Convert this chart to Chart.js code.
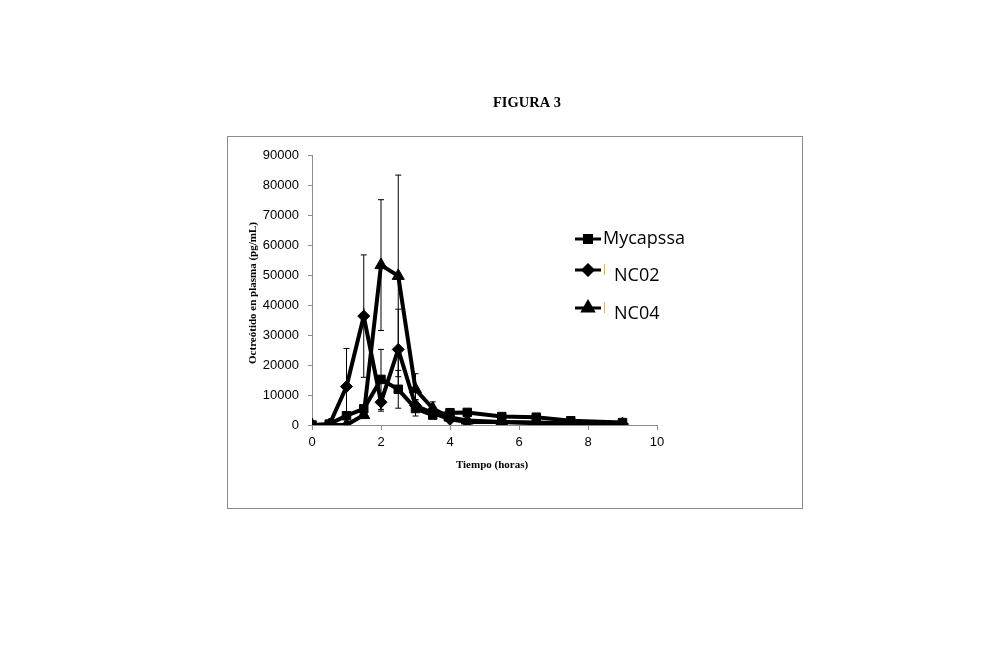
<!DOCTYPE html>
<html>
<head>
<meta charset="utf-8">
<script src="https://cdn.jsdelivr.net/npm/chart.js@4"></script>
<style>
  html, body { margin: 0; padding: 0; background: #fff; }
  #wrap { width: 1000px; height: 656px; }
</style>
</head>
<body>
<div id="wrap"><canvas id="chart" width="1000" height="656"></canvas></div>
<script>
// hours after dosing
const times = [0, 0.5, 1, 1.5, 2, 2.5, 3, 3.5, 4, 4.5, 5.5, 6.5, 7.5, 9];

// plasma octreotide (pg/mL)
const mycapssa = [0, 300, 3100, 5400, 15200, 11900, 5500, 3300, 4100, 4200, 2800, 2600, 1400, 800];
const nc02 = [0, 0, 12800, 36300, 7600, 25200, 6500, 4000, 1900, 1000, 1000, 600, 400, 300];
const nc04 = [0, 0, 0, 3300, 53300, 49700, 11900, 5500, 2500, 1500, 1000, 800, 500, 300];

// standard deviations (error bars)
const mycapssaErr = [0, 0, 0, 0, 10000, 6300, 2500, 1000, 0, 0, 0, 0, 0, 0];
const nc02Err = [0, 0, 12700, 20400, 3000, 13400, 2000, 1500, 0, 0, 0, 0, 0, 0];
const nc04Err = [0, 0, 0, 0, 21800, 33600, 5200, 2200, 0, 0, 0, 0, 0, 0];

const seriesNames = ['Mycapssa', 'NC02', 'NC04'];
const yTicks = [0, 10000, 20000, 30000, 40000, 50000, 60000, 70000, 80000, 90000];
const xTicks = [0, 2, 4, 6, 8, 10];
const figureTitle = 'FIGURA 3';
const xTitle = 'Tiempo (horas)';
const yTitle = 'Octreótido en plasma (pg/mL)';

function toPoints(vals) {
  return times.map((t, i) => ({ x: t, y: vals[i] }));
}

const errorBars = {
  id: 'errorBars',
  afterDatasetsDraw(chart) {
    const { ctx, scales: { x, y } } = chart;
    ctx.save();
    ctx.strokeStyle = '#000';
    ctx.lineWidth = 1;
    chart.data.datasets.forEach(ds => {
      ds.errors.forEach((e, i) => {
        if (!e) return;
        const px = x.getPixelForValue(times[i]);
        const top = y.getPixelForValue(ds.data[i].y + e);
        const bot = y.getPixelForValue(Math.max(0, ds.data[i].y - e));
        ctx.beginPath();
        ctx.moveTo(px, top); ctx.lineTo(px, bot);
        ctx.moveTo(px - 3, top); ctx.lineTo(px + 3, top);
        ctx.moveTo(px - 3, bot); ctx.lineTo(px + 3, bot);
        ctx.stroke();
      });
    });
    ctx.restore();
  }
};

const frameAndLegend = {
  id: 'frameAndLegend',
  beforeDraw(chart) {
    const ctx = chart.ctx;
    ctx.save();
    ctx.fillStyle = '#fff';
    ctx.fillRect(0, 0, chart.width, chart.height);
    ctx.strokeStyle = '#8c8c8c';
    ctx.lineWidth = 1;
    ctx.strokeRect(227.5, 136.5, 575, 372);
    ctx.fillStyle = '#000';
    ctx.textAlign = 'center';
    ctx.textBaseline = 'middle';
    ctx.font = 'bold 14.5px "Liberation Serif", "Times New Roman", serif';
    ctx.fillText(figureTitle, 527, 103);
    ctx.font = 'bold 11px "Liberation Serif", "Times New Roman", serif';
    ctx.fillText(xTitle, 492, 465);
    ctx.translate(253, 293);
    ctx.rotate(-Math.PI / 2);
    ctx.fillText(yTitle, 0, 0);
    ctx.restore();
  },
  afterDraw(chart) {
    const ctx = chart.ctx;
    const rows = [
      { y: 239, tx: 603, ty: 239 },
      { y: 270, tx: 614, ty: 276 },
      { y: 308, tx: 614, ty: 314 }
    ];
    ctx.save();
    chart.data.datasets.forEach((ds, i) => {
      const r = rows[i];
      ctx.strokeStyle = '#000';
      ctx.lineWidth = 3;
      ctx.beginPath();
      ctx.moveTo(575, r.y); ctx.lineTo(601, r.y);
      ctx.stroke();
      Chart.helpers.drawPoint(ctx, {
        pointStyle: ds.pointStyle, radius: ds.pointRadius - 1, borderWidth: 1, rotation: 0
      }, 588, r.y);
      if (i > 0) {
        ctx.strokeStyle = '#e0b070';
        ctx.lineWidth = 1;
        ctx.beginPath();
        ctx.moveTo(604.5, r.y - 6); ctx.lineTo(604.5, r.y + 5);
        ctx.stroke();
      }
      ctx.fillStyle = '#000';
      ctx.font = '18px "Open Sans", sans-serif';
      ctx.textBaseline = 'middle';
      ctx.textAlign = 'left';
      ctx.fillText(seriesNames[i], r.tx, r.ty);
    });
    ctx.restore();
  }
};

const common = {
  borderColor: '#000',
  backgroundColor: '#000',
  pointBackgroundColor: '#000',
  pointBorderColor: '#000',
  borderWidth: 4,
  pointBorderWidth: 1,
  tension: 0,
  fill: false
};

const tickFont = { family: '"Liberation Sans", Arial, sans-serif', size: 13 };

new Chart(document.getElementById('chart'), {
  type: 'line',
  data: {
    datasets: [
      { ...common, label: seriesNames[0], data: toPoints(mycapssa), errors: mycapssaErr, pointStyle: 'rect', pointRadius: 6 },
      { ...common, label: seriesNames[1], data: toPoints(nc02), errors: nc02Err, pointStyle: 'rectRot', pointRadius: 6 },
      { ...common, label: seriesNames[2], data: toPoints(nc04), errors: nc04Err, pointStyle: 'triangle', pointRadius: 7 }
    ]
  },
  options: {
    responsive: false,
    animation: false,
    layout: { padding: { left: 247, right: 343, top: 155, bottom: 184 } },
    plugins: {
      legend: { display: false },
      tooltip: { enabled: false },
      title: { display: false }
    },
    scales: {
      x: {
        type: 'linear',
        min: 0,
        max: 10,
        afterFit(scale) { scale.height = 47; },
        afterBuildTicks(scale) { scale.ticks = xTicks.map(v => ({ value: v })); },
        grid: { display: true, drawOnChartArea: false, drawTicks: true, tickLength: 5, color: '#8c8c8c' },
        border: { color: '#8c8c8c', width: 1 },
        ticks: { color: '#000', font: tickFont, padding: 5, maxRotation: 0, callback: v => String(v) },
        title: { display: false }
      },
      y: {
        min: 0,
        max: 90000,
        afterFit(scale) { scale.width = 65; },
        afterBuildTicks(scale) { scale.ticks = yTicks.map(v => ({ value: v })); },
        grid: { display: true, drawOnChartArea: false, drawTicks: true, tickLength: 4, color: '#8c8c8c' },
        border: { color: '#8c8c8c', width: 1 },
        ticks: { color: '#000', font: tickFont, padding: 9, callback: v => String(v) },
        title: { display: false }
      }
    }
  },
  plugins: [errorBars, frameAndLegend]
});
</script>
</body>
</html>
